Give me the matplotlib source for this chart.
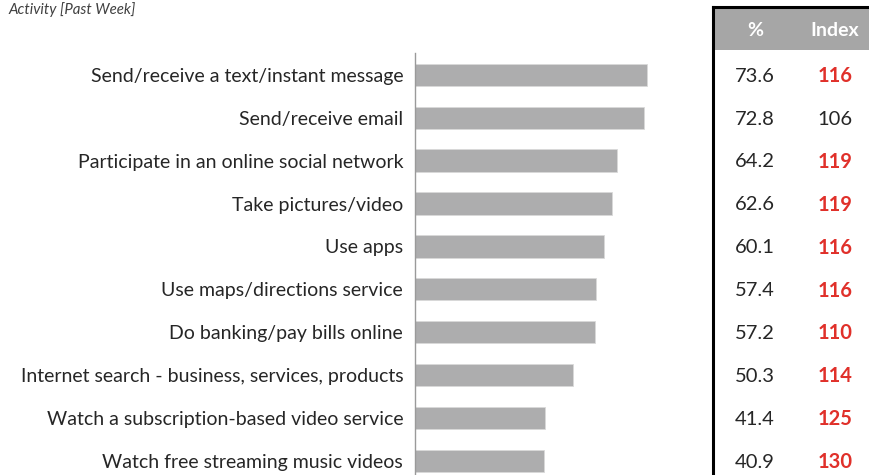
import matplotlib.pyplot as plt
import matplotlib.transforms as mtransforms
from matplotlib.patches import Rectangle
from matplotlib.lines import Line2D

plt.rcParams['font.family'] = ['Lato', 'DejaVu Sans']

activities = [
    "Send/receive a text/instant message",
    "Send/receive email",
    "Participate in an online social network",
    "Take pictures/video",
    "Use apps",
    "Use maps/directions service",
    "Do banking/pay bills online",
    "Internet search - business, services, products",
    "Watch a subscription-based video service",
    "Watch free streaming music videos",
]
pct = [73.6, 72.8, 64.2, 62.6, 60.1, 57.4, 57.2, 50.3, 41.4, 40.9]
index = [116, 106, 119, 119, 116, 116, 110, 114, 125, 130]
highlight = [True, False, True, True, True, True, True, True, True, True]

W, H = 869, 475
fig = plt.figure(figsize=(W / 100, H / 100), dpi=100)

# axes placed in pixel terms
ax_left, ax_right = 415, 700
ax_top, ax_bottom = 53, 475
ax = fig.add_axes([ax_left / W, 1 - ax_bottom / H,
                   (ax_right - ax_left) / W, (ax_bottom - ax_top) / H])

ypos = list(range(len(activities)))
ax.barh(ypos, pct, height=0.52, color="#ADADAE", edgecolor="#D9D9D9", linewidth=0.6)
ax.set_xlim(0, (ax_right - ax_left) / 3.15)
ax.set_ylim(9.33, -0.51)
ax.set_yticks(ypos)
ax.set_yticklabels(activities, fontsize=14, color="#262626")
ax.tick_params(axis="y", length=0, pad=8.5)
ax.set_xticks([])
for s in ["top", "right", "bottom"]:
    ax.spines[s].set_visible(False)
ax.spines["left"].set_color("#9A9A9A")
ax.spines["left"].set_linewidth(1.0)

fig.text(8 / W, 1 - 10 / H, "Activity [Past Week]", fontsize=10.8, style="italic",
         color="#404040", ha="left", va="center")

# right-hand table
tl, tt, hb = 713 / W, 1 - 7 / H, 1 - 50 / H
fig.add_artist(Rectangle((tl, hb), 1 - tl, tt - hb, transform=fig.transFigure,
                         facecolor="#A6A6A6", edgecolor="none"))
fig.add_artist(Line2D([tl, tl], [0, tt], transform=fig.transFigure, color="black", lw=2.2))
fig.add_artist(Line2D([tl, 1], [tt, tt], transform=fig.transFigure, color="black", lw=2.2))

col_pct, col_idx = 755 / W, 835 / W
head_y = 1 - 30 / H
fig.text(col_pct, head_y, "%", ha="center", va="center", fontsize=14,
         fontweight="bold", color="white")
fig.text(col_idx, head_y, "Index", ha="center", va="center", fontsize=14,
         fontweight="bold", color="white")

trans = mtransforms.blended_transform_factory(fig.transFigure, ax.transData)
for y, p, i, h in zip(ypos, pct, index, highlight):
    ax.text(col_pct, y + 0.03, f"{p:.1f}", transform=trans, ha="center", va="center",
            fontsize=14.5, color="#262626", clip_on=False)
    ax.text(col_idx, y + 0.03, str(i), transform=trans, ha="center", va="center",
            fontsize=14.5, color="#E0302A" if h else "#262626",
            fontweight="bold" if h else "normal", clip_on=False)

fig.savefig("out.png", dpi=100)
